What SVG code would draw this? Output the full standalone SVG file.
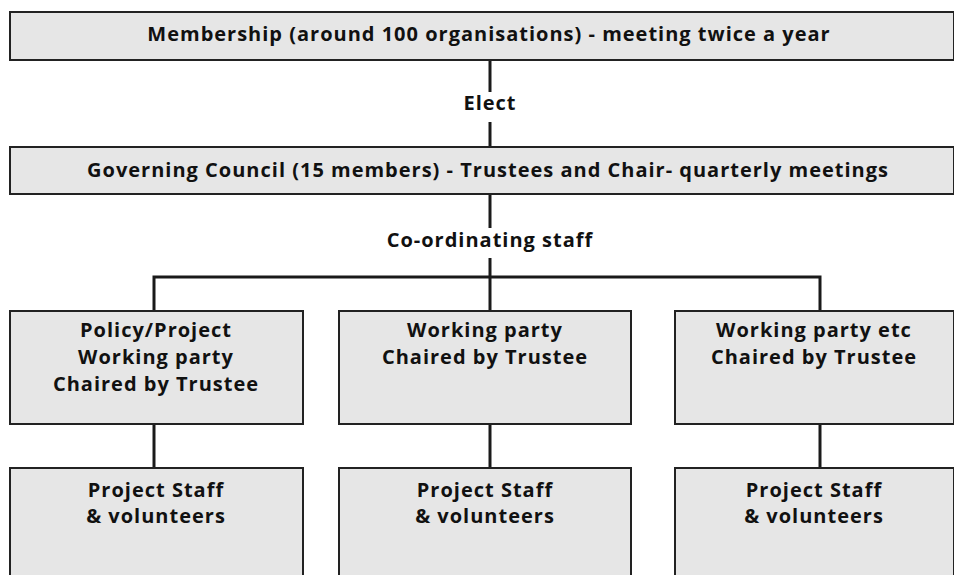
<svg xmlns="http://www.w3.org/2000/svg" width="954" height="575" viewBox="0 0 954 575">
<style>
.box{fill:#e6e6e6;stroke:#222;stroke-width:2}
.t{font-family:"Open Sans","Liberation Sans",sans-serif;font-weight:bold;font-size:20px;letter-spacing:1px;fill:#111;text-anchor:middle}
.c{stroke:#1a1a1a;stroke-width:3;fill:none}
</style>
<rect width="954" height="575" fill="#fff"/>
<g id="connectors">
<line class="c" x1="490" y1="60" x2="490" y2="92"/>
<line class="c" x1="490" y1="122" x2="490" y2="147"/>
<line class="c" x1="490" y1="194" x2="490" y2="228"/>
<line class="c" x1="490" y1="258" x2="490" y2="311"/>
<polyline class="c" points="154,311 154,277 820,277 820,311"/>
<line class="c" x1="154" y1="424" x2="154" y2="468"/>
<line class="c" x1="490" y1="424" x2="490" y2="468"/>
<line class="c" x1="820" y1="424" x2="820" y2="468"/>
<text class="t" x="490" y="110">Elect</text>
<text class="t" x="490" y="247">Co-ordinating staff</text>
</g>
<g id="membership">
<rect class="box" x="10" y="12" width="944" height="48"/>
<text class="t" x="489" y="41">Membership (around 100 organisations) - meeting twice a year</text>
</g>
<g id="council">
<rect class="box" x="10" y="147" width="944" height="47"/>
<text class="t" x="488" y="177">Governing Council (15 members) - Trustees and Chair- quarterly meetings</text>
</g>
<g id="wp1">
<rect class="box" x="10" y="311" width="293" height="113"/>
<text class="t" x="156" y="337">Policy/Project</text>
<text class="t" x="156" y="364">Working party</text>
<text class="t" x="156" y="391">Chaired by Trustee</text>
</g>
<g id="wp2">
<rect class="box" x="339" y="311" width="292" height="113"/>
<text class="t" x="485" y="337">Working party</text>
<text class="t" x="485" y="364">Chaired by Trustee</text>
</g>
<g id="wp3">
<rect class="box" x="675" y="311" width="279" height="113"/>
<text class="t" x="814" y="337">Working party etc</text>
<text class="t" x="814" y="364">Chaired by Trustee</text>
</g>
<g id="ps1">
<rect class="box" x="10" y="468" width="293" height="120"/>
<text class="t" x="156" y="497">Project Staff</text>
<text class="t" x="156" y="523">&amp; volunteers</text>
</g>
<g id="ps2">
<rect class="box" x="339" y="468" width="292" height="120"/>
<text class="t" x="485" y="497">Project Staff</text>
<text class="t" x="485" y="523">&amp; volunteers</text>
</g>
<g id="ps3">
<rect class="box" x="675" y="468" width="279" height="120"/>
<text class="t" x="814" y="497">Project Staff</text>
<text class="t" x="814" y="523">&amp; volunteers</text>
</g>
</svg>
